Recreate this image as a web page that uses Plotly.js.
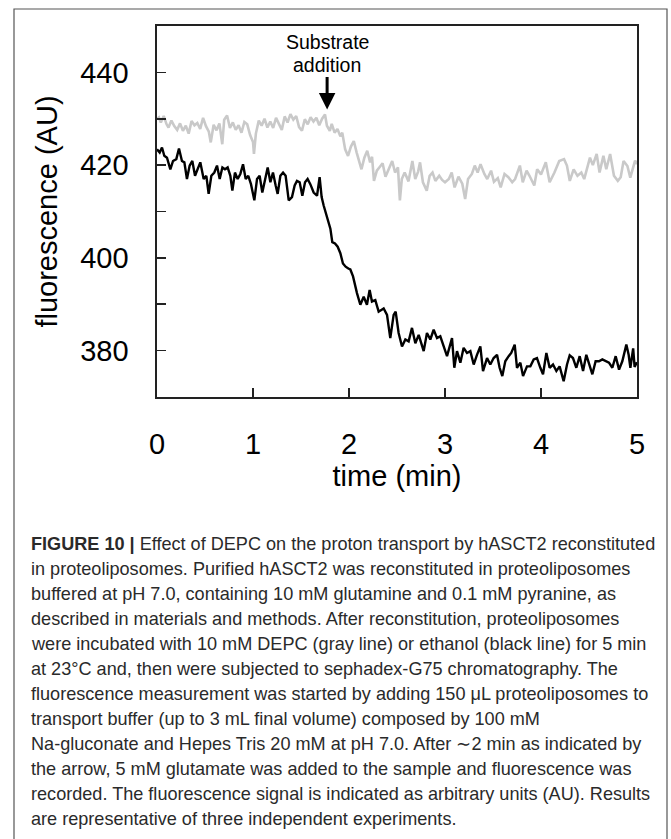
<!DOCTYPE html>
<html>
<head>
<meta charset="utf-8">
<script src="https://cdn.plot.ly/plotly-3.0.1.min.js"></script>
<style>
html,body{margin:0;padding:0;background:#fff;}
#chart{width:671px;height:839px;}
</style>
</head>
<body>
<div id="chart"></div>
<script>
// ---- data ----
const blackTime = [0,0.028,0.052,0.076,0.104,0.139,0.167,0.201,0.229,0.260,0.285,0.312,0.340,0.368,0.396,0.424,0.451,0.486,0.514,0.538,0.566,0.597,0.625,0.653,0.681,0.708,0.736,0.764,0.785,0.812,0.840,0.868,0.896,0.924,0.951,0.979,1.014,1.042,1.069,1.097,1.125,1.153,1.181,1.208,1.236,1.257,1.285,1.313,1.340,1.372,1.406,1.434,1.458,1.486,1.514,1.542,1.569,1.597,1.632,1.667,1.694,1.715,1.736,1.757,1.778,1.806,1.826,1.854,1.882,1.910,1.937,1.965,1.993,2.014,2.042,2.066,2.083,2.118,2.153,2.187,2.215,2.239,2.274,2.309,2.361,2.396,2.430,2.465,2.486,2.517,2.552,2.587,2.621,2.656,2.691,2.726,2.778,2.812,2.847,2.882,2.917,2.951,2.986,3.021,3.073,3.097,3.125,3.160,3.194,3.229,3.264,3.299,3.333,3.368,3.396,3.438,3.472,3.507,3.542,3.569,3.597,3.628,3.663,3.690,3.726,3.750,3.785,3.813,3.854,3.889,3.924,3.958,3.993,4.021,4.056,4.090,4.125,4.160,4.194,4.236,4.271,4.299,4.333,4.368,4.403,4.438,4.472,4.507,4.535,4.569,4.604,4.639,4.674,4.708,4.743,4.778,4.813,4.847,4.889,4.913,4.931,4.960,4.975,5.000];
const blackFluo = [423.4,422.7,423.8,422.0,421.6,419.1,420.9,421.3,423.6,420.9,420.6,417.0,419.9,420.9,417.7,419.1,420.6,417.0,417.7,413.8,417.7,418.4,419.9,417.0,419.5,419.1,419.5,417.7,414.5,418.4,417.0,418.1,420.2,417.0,417.7,415.9,412.4,417.0,417.7,414.1,417.0,419.5,416.3,418.4,415.6,413.8,417.7,418.4,417.7,412.4,413.1,415.6,416.6,416.3,413.4,416.3,417.0,415.9,414.1,413.4,417.4,413.1,411.3,409.9,408.4,406.3,403.4,403.1,402.4,401.0,398.8,398.1,397.7,397.5,396.0,393.4,392.4,389.9,391.6,389.9,393.1,390.6,390.9,388.4,389.1,387.7,382.7,387.7,388.4,383.8,380.9,382.4,382.0,384.9,381.6,383.4,379.9,383.8,382.4,384.5,382.7,383.1,380.9,378.8,382.7,376.3,379.9,377.4,380.6,379.5,379.9,377.0,379.1,380.9,375.6,378.4,377.0,378.4,379.1,376.3,374.5,377.7,378.8,379.5,381.3,376.3,377.4,374.5,376.6,376.6,378.1,378.4,376.3,374.9,379.5,376.3,377.0,375.6,376.6,373.4,377.0,379.0,378.4,376.3,378.8,375.6,379.1,377.0,374.9,377.7,377.7,378.1,377.7,377.4,376.3,378.8,375.9,377.7,381.3,379.1,376.3,380.5,376.5,377.5];

const grayTime = [0.00,0.02,0.04,0.07,0.10,0.12,0.15,0.18,0.21,0.24,0.27,0.30,0.33,0.36,0.39,0.42,0.45,0.48,0.51,0.54,0.56,0.59,0.62,0.65,0.68,0.70,0.73,0.76,0.79,0.82,0.85,0.88,0.91,0.94,0.97,1.00,1.01,1.03,1.06,1.09,1.12,1.15,1.18,1.21,1.24,1.27,1.30,1.33,1.36,1.39,1.42,1.45,1.48,1.51,1.54,1.57,1.60,1.63,1.66,1.69,1.72,1.75,1.77,1.80,1.82,1.85,1.88,1.91,1.93,1.96,1.99,2.02,2.05,2.08,2.10,2.13,2.16,2.19,2.22,2.24,2.26,2.29,2.32,2.35,2.38,2.41,2.45,2.48,2.51,2.53,2.55,2.58,2.62,2.66,2.69,2.72,2.74,2.77,2.81,2.84,2.87,2.90,2.94,2.97,3.00,3.04,3.07,3.10,3.14,3.18,3.21,3.24,3.28,3.31,3.34,3.37,3.41,3.44,3.48,3.51,3.55,3.58,3.62,3.66,3.70,3.73,3.78,3.81,3.85,3.88,3.93,3.96,4.00,4.05,4.09,4.14,4.19,4.24,4.27,4.30,4.34,4.38,4.42,4.45,4.48,4.51,4.54,4.58,4.61,4.65,4.68,4.72,4.76,4.80,4.83,4.86,4.90,4.93,4.96,4.98,5.00];
const grayFluo = [430.0,430.3,429.2,430.6,428.8,428.1,429.6,428.4,427.6,429.0,427.4,428.5,426.8,429.5,428.6,429.1,427.8,430.2,428.4,427.2,424.9,428.7,427.5,429.0,424.5,429.8,430.7,428.0,429.2,427.6,428.6,427.0,429.3,428.8,426.5,425.0,422.4,426.8,429.6,428.5,430.0,428.1,429.4,428.0,430.2,429.0,427.6,430.5,429.2,431.0,429.8,430.6,428.2,427.4,429.9,428.8,430.3,429.4,430.2,428.6,430.0,430.9,428.5,427.4,428.9,427.0,427.8,426.2,427.0,423.4,422.0,424.0,425.2,422.7,421.0,419.1,421.6,423.1,420.6,421.8,416.6,418.8,419.6,420.4,417.5,419.0,420.9,418.4,419.5,412.4,417.0,418.4,416.5,420.9,417.0,418.6,420.6,416.3,414.5,417.7,418.4,416.6,417.7,416.8,416.3,417.0,418.4,415.2,417.5,416.0,412.7,417.0,418.1,419.9,418.4,420.2,418.1,417.0,418.8,416.4,417.2,415.2,418.1,417.4,416.3,417.0,419.9,416.3,418.8,417.7,415.6,419.1,418.0,420.6,416.3,418.4,420.9,421.3,419.9,416.6,419.1,417.7,418.4,417.0,419.5,421.6,420.0,422.4,418.4,422.0,419.1,422.4,417.7,416.6,417.4,420.9,419.8,417.3,419.5,421.0,420.2];

const xTickVals = [0,1,2,3,4,5];
const xTickText = ['0','1','2','3','4','5'];
const yTickVals = [380,390,400,410,420,430,440];
const yTickText = ['380','','400','','420','','440'];

const arrowTime = 1.772;
const arrowFluo = 432.0;
const arrowLabel = ['Substrate', 'addition'];

const captionLines = [
  '<b>FIGURE 10 |</b> Effect of DEPC on the proton transport by hASCT2 reconstituted',
  'in proteoliposomes. Purified hASCT2 was reconstituted in proteoliposomes',
  'buffered at pH 7.0, containing 10 mM glutamine and 0.1 mM pyranine, as',
  'described in materials and methods. After reconstitution, proteoliposomes',
  'were incubated with 10 mM DEPC (gray line) or ethanol (black line) for 5 min',
  'at 23°C and, then were subjected to sephadex-G75 chromatography. The',
  'fluorescence measurement was started by adding 150 μL proteoliposomes to',
  'transport buffer (up to 3 mL final volume) composed by 100 mM',
  'Na-gluconate and Hepes Tris 20 mM at pH 7.0. After ∼2 min as indicated by',
  'the arrow, 5 mM glutamate was added to the sample and fluorescence was',
  'recorded. The fluorescence signal is indicated as arbitrary units (AU). Results',
  'are representative of three independent experiments.'
];

// ---- geometry helpers (pixel -> paper) ----
const W = 671, H = 839;
const M = {l:157, r:34, t:26, b:442};
const PW = W - M.l - M.r, PH = H - M.t - M.b;
const px2x = p => (p - M.l) / PW;
const py2y = p => (H - M.b - p) / PH;

const FONT = 'Liberation Sans, Arial, Helvetica, sans-serif';

const traces = [
  {x: grayTime, y: grayFluo, type:'scatter', mode:'lines', name:'DEPC',
   line:{color:'#c9c9c9', width:2.6}, hoverinfo:'skip'},
  {x: blackTime, y: blackFluo, type:'scatter', mode:'lines', name:'ethanol',
   line:{color:'#000000', width:2.4}, hoverinfo:'skip'}
];

const annotations = [
  {x: arrowTime, y: arrowFluo, xref:'x', yref:'y', ax:0, ay:-34, text:'',
   showarrow:true, arrowhead:2, arrowsize:1.1, arrowwidth:3, arrowcolor:'#000'},
  {x: arrowTime, xref:'x', y: py2y(42), yref:'paper', text: arrowLabel[0], showarrow:false,
   xanchor:'center', yanchor:'middle', font:{family:FONT, size:19.5, color:'#000'}},
  {x: arrowTime, xref:'x', y: py2y(65), yref:'paper', text: arrowLabel[1], showarrow:false,
   xanchor:'center', yanchor:'middle', font:{family:FONT, size:19.5, color:'#000'}}
];

captionLines.forEach((t, i) => {
  annotations.push({
    x: px2x(29), xref:'paper', y: py2y(543.5 + 25*i), yref:'paper',
    text: t, showarrow:false, xanchor:'left', yanchor:'middle',
    font:{family:FONT, size:18.1, color:'#2a2a2a'}
  });
});

const shapes = [
  {type:'path', xref:'paper', yref:'paper',
   path: `M ${px2x(14)} ${py2y(860)} L ${px2x(14)} ${py2y(9)} L ${px2x(667)} ${py2y(9)} L ${px2x(667)} ${py2y(860)}`,
   line:{color:'#555', width:1.2}}
];

const axisCommon = {
  showline:true, mirror:true, linecolor:'#222', linewidth:1.6,
  ticks:'inside', ticklen:9, tickwidth:1.6, tickcolor:'#222',
  showgrid:false, zeroline:false, tickmode:'array',
  tickfont:{family:FONT, size:29, color:'#000'}
};

const layout = {
  width:W, height:H, margin:M, paper_bgcolor:'#fff', plot_bgcolor:'#fff',
  showlegend:false,
  xaxis: Object.assign({}, axisCommon, {
    range:[0,5], tickvals:xTickVals, ticktext:xTickText, ticklabelstandoff:21,
    title:{text:'time (min)', font:{family:FONT, size:29, color:'#000'}, standoff:6}
  }),
  yaxis: Object.assign({}, axisCommon, {
    range:[370,450], tickvals:yTickVals, ticktext:yTickText, ticklabelstandoff:21,
    title:{text:'fluorescence (AU)', font:{family:FONT, size:29, color:'#000'}, standoff:14}
  }),
  annotations, shapes
};

Plotly.newPlot('chart', traces, layout, {staticPlot:true});
</script>
</body>
</html>
